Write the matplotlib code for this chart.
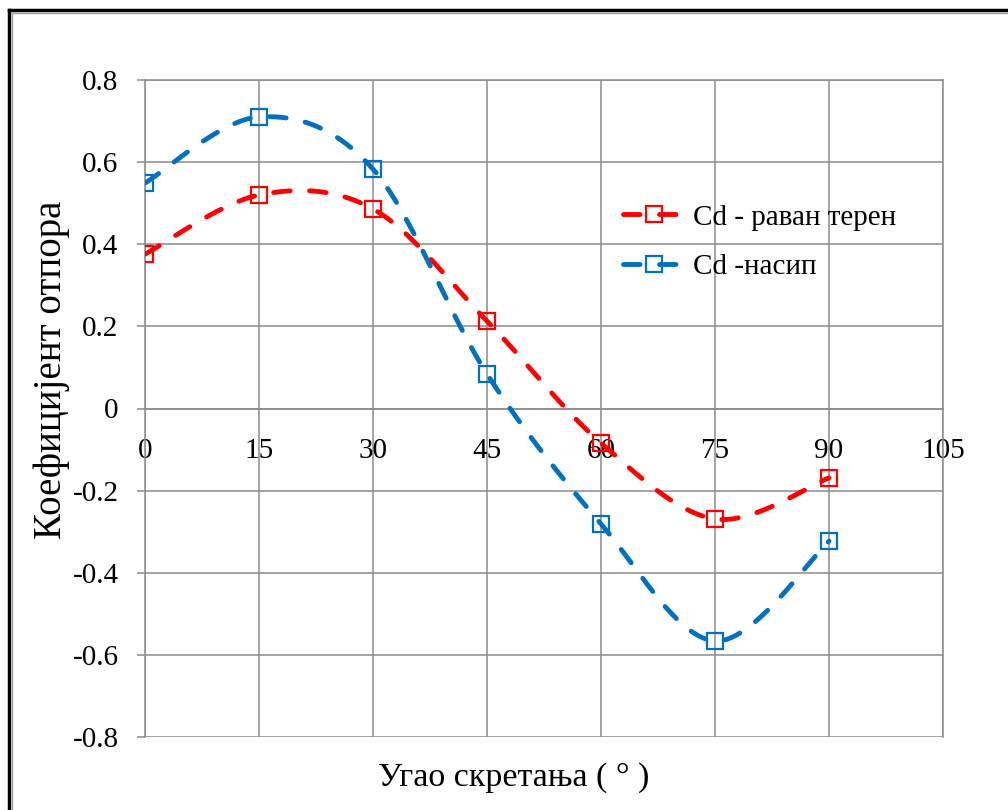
import numpy as np
import matplotlib
matplotlib.use("Agg")
import matplotlib.pyplot as plt
from matplotlib.lines import Line2D

plt.rcParams['font.family'] = ['Liberation Serif', 'DejaVu Serif']

# data
angles = [0, 15, 30, 45, 60, 75, 90]
cd_flat = [0.376, 0.52, 0.486, 0.213, -0.084, -0.269, -0.169]
cd_embankment = [0.549, 0.71, 0.583, 0.084, -0.281, -0.566, -0.323]
series_names = ['Cd - раван терен', 'Cd -насип']
series_colors = ['#FF0000', '#0070C0']
x_ticks = [0, 15, 30, 45, 60, 75, 90, 105]
y_ticks = [-0.8, -0.6, -0.4, -0.2, 0, 0.2, 0.4, 0.6, 0.8]
x_title = 'Угао скретања ( ° )'
y_title = 'Коефицијент отпора'


def excel_smooth(x, y, n=40):
    # bezier smoothing like excel "smoothed line"
    x = np.asarray(x, float)
    y = np.asarray(y, float)
    px = np.concatenate([[x[0]], x, [x[-1]]])
    py = np.concatenate([[y[0]], y, [y[-1]]])
    xs, ys = [], []
    t = np.linspace(0, 1, n)
    for i in range(1, len(px) - 2):
        p0 = np.array([px[i], py[i]])
        p3 = np.array([px[i + 1], py[i + 1]])
        p1 = p0 + (np.array([px[i + 1], py[i + 1]]) - np.array([px[i - 1], py[i - 1]])) / 6
        p2 = p3 - (np.array([px[i + 2], py[i + 2]]) - p0) / 6
        b = ((1 - t) ** 3)[:, None] * p0 + (3 * (1 - t) ** 2 * t)[:, None] * p1 \
            + (3 * (1 - t) * t ** 2)[:, None] * p2 + (t ** 3)[:, None] * p3
        xs.extend(b[:, 0])
        ys.extend(b[:, 1])
    return np.array(xs), np.array(ys)


fig = plt.figure(figsize=(10.08, 8.1), dpi=100)
ax = fig.add_axes([145 / 1008, 1 - 737 / 810, 798 / 1008, 657 / 810])

grid_col = '#8c8c8c'
dash = (0, (3.4, 4.0))
for vals, col, name in zip([cd_flat, cd_embankment], series_colors, series_names):
    sx, sy = excel_smooth(angles, vals)
    ax.plot(sx, sy, color=col, lw=3.5, linestyle=dash,
            dash_capstyle='round', zorder=3)
    ax.plot(angles, vals, linestyle='none', marker='s', markersize=11,
            markerfacecolor='none', markeredgecolor=col, markeredgewidth=1.6, zorder=4)

ax.set_xlim(0, 105)
ax.set_ylim(-0.8, 0.8)
ax.set_xticks(x_ticks)
ax.set_yticks(y_ticks)
ax.set_yticklabels(['0' if v == 0 else f'{v:.1f}' for v in y_ticks])
ax.grid(True, color=grid_col, lw=1.1)
ax.set_axisbelow(True)

for s in ['left', 'right', 'top']:
    ax.spines[s].set_color(grid_col)
    ax.spines[s].set_linewidth(1.1)
ax.spines['bottom'].set_position(('data', 0))
ax.spines['bottom'].set_color(grid_col)
ax.spines['bottom'].set_linewidth(1.1)

ax.tick_params(axis='y', length=6, width=1.1, color=grid_col, pad=13, labelsize=21)
ax.tick_params(axis='x', length=0, pad=21, labelsize=21)

fig.text(52 / 1008, 1 - 370 / 810, y_title, rotation=90, ha='center', va='center', fontsize=28)
fig.text(514 / 1008, 1 - 778 / 810, x_title, ha='center', va='center', fontsize=24.5)

handles = [Line2D([0], [0], color=c, lw=3.5, linestyle=dash, dash_capstyle='round',
                  marker='s', markersize=11, markerfacecolor='none', markeredgecolor=c,
                  markeredgewidth=1.6) for c in series_colors]
fig.legend(handles, series_names, loc='upper left', bbox_to_anchor=(597 / 1008, 1 - 178 / 810),
           frameon=False, fontsize=21, handlelength=2.1, handletextpad=0.3, labelspacing=0.8)

# outer chart frame (left and top edges)
fig.add_artist(Line2D([9 / 1008, 9 / 1008], [0, 1 - 10 / 810], color='black', lw=2.5))
fig.add_artist(Line2D([9 / 1008, 1], [1 - 10 / 810, 1 - 10 / 810], color='black', lw=2.5))
fig.add_artist(Line2D([12 / 1008, 12 / 1008], [0, 1 - 13 / 810], color='#a0a0a0', lw=1))
fig.add_artist(Line2D([12 / 1008, 1], [1 - 13 / 810, 1 - 13 / 810], color='#a0a0a0', lw=1))

fig.savefig('out.png', dpi=100)
